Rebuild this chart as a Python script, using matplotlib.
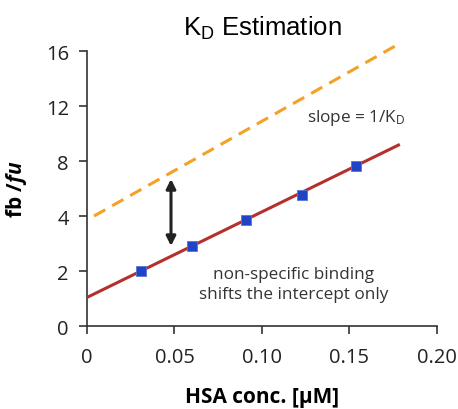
import numpy as np
import matplotlib
matplotlib.use("Agg")
import matplotlib.pyplot as plt

plt.rcParams['font.family'] = ['Open Sans', 'DejaVu Sans']
plt.rcParams['mathtext.fontset'] = 'custom'
plt.rcParams['mathtext.rm'] = 'Open Sans'
plt.rcParams['mathtext.it'] = 'Open Sans:italic'
plt.rcParams['mathtext.bf'] = 'Open Sans:bold'
plt.rcParams['mathtext.bfit'] = 'Open Sans:bold:italic'

# data
conc = [0.031, 0.060, 0.091, 0.123, 0.154]          # HSA conc. [uM]
ratio = [1.99, 2.91, 3.84, 5.55, 7.61]              # fb/fu measured
fit_x = [0.0, 0.178]
fit_y = [1.04, 9.16]
ideal_x = [0.004, 0.178]
ideal_y = [4.0, 16.5]
arrow_x = 0.048
arrow_y = [2.91, 6.69]

y_ticks = [0, 2, 4, 8, 12, 16]
x_ticks = [0, 0.05, 0.10, 0.15, 0.20]
x_tick_labels = ['0', '0.05', '0.10', '0.15', '0.20']

# the value axis is spaced evenly per tick label, not linearly
_vals = [-4, 0, 2, 4, 8, 12, 16, 40]
_pos = [-2, 0, 1, 2, 3, 4, 5, 11]

def fwd(v):
    return np.interp(v, _vals, _pos)

def inv(p):
    return np.interp(p, _pos, _vals)

fig = plt.figure(figsize=(4.58, 4.10), dpi=100)
ax = fig.add_axes([0.19, 0.2024, 0.764, 0.6707])
ax.set_yscale('function', functions=(fwd, inv))

ax.plot(ideal_x, ideal_y, color='#f4a125', lw=2.2, dashes=(4.2, 2.6), clip_on=False)
ax.plot(fit_x, fit_y, color='#b5302c', lw=2.2, zorder=3)
ax.plot(conc, ratio, 's', color='#2143c6', ms=7.5, mec='#5a74d8', mew=0.6, zorder=4)

ax.annotate('', xy=(arrow_x, arrow_y[0]), xytext=(arrow_x, arrow_y[1]),
            arrowprops=dict(arrowstyle='<|-|>', color='#222222', lw=2.2,
                            mutation_scale=14, shrinkA=0, shrinkB=0))

ax.text(0.154, 11.2, 'slope = 1/K$_\\mathregular{D}$', ha='center', va='center',
        fontsize=12.3, color='#333333')
ax.text(0.118, 1.53, 'non-specific binding\nshifts the intercept only', ha='center',
        va='center', fontsize=12.3, color='#333333', linespacing=1.35)

ax.set_xlim(0, 0.20)
ax.set_ylim(0, 16)
ax.set_xticks(x_ticks)
ax.set_xticklabels(x_tick_labels)
ax.set_yticks(y_ticks)
ax.set_yticklabels([str(t) for t in y_ticks])
ax.minorticks_off()

for s in ['top', 'right']:
    ax.spines[s].set_visible(False)
for s in ['left', 'bottom']:
    ax.spines[s].set_color('#333333')
    ax.spines[s].set_linewidth(1.2)
ax.tick_params(axis='both', direction='out', length=6, width=1.2, color='#333333',
               labelsize=14.5, labelcolor='#222222')
ax.tick_params(axis='x', pad=9)
ax.tick_params(axis='y', pad=7)

ax.set_xlabel('HSA conc. [µM]', fontsize=15, fontweight='bold', labelpad=14)
ax.set_ylabel('fb /$\\mathbfit{fu}$', fontsize=15, fontweight='bold', labelpad=12)
ax.set_title('K$_\\mathregular{D}$ Estimation', fontsize=18.5, pad=12,
             family=['Liberation Sans', 'DejaVu Sans'])

fig.savefig('out.png', dpi=100)
